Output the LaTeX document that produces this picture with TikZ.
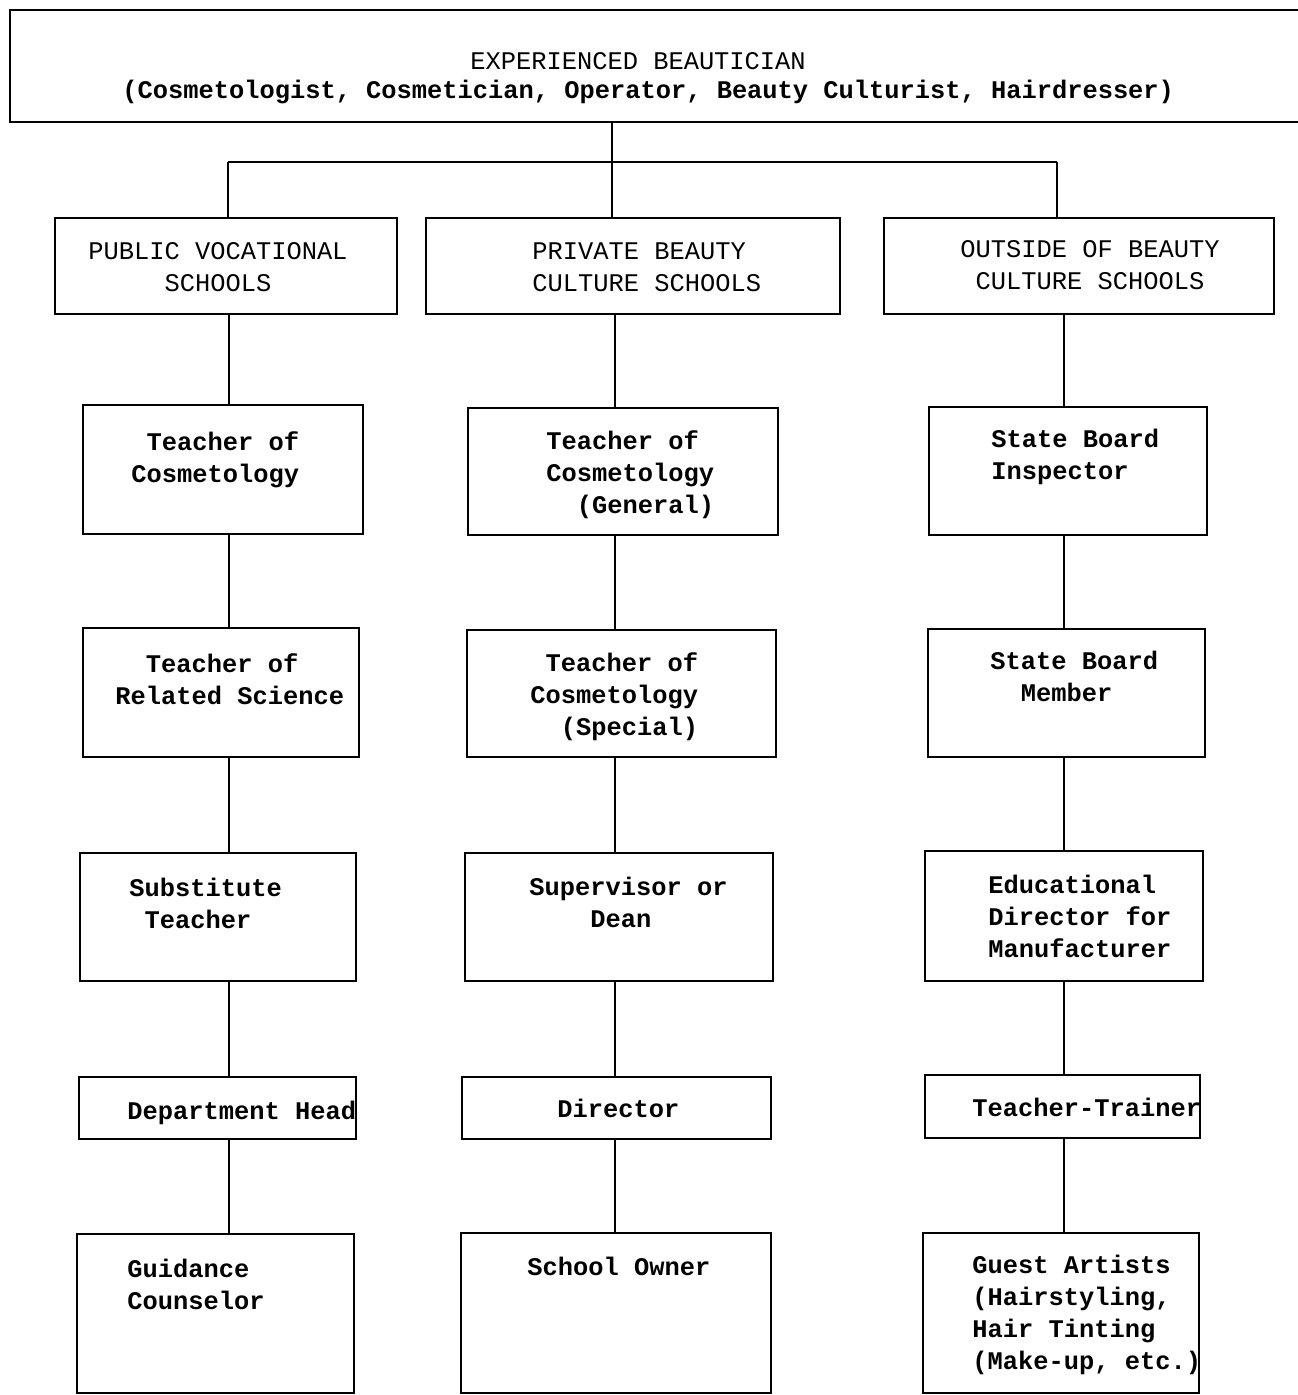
\documentclass[tikz,border=0pt]{standalone}
\usepackage{fontspec}
\newfontfamily\tw{Liberation Mono}
\usetikzlibrary{fit}
\newcommand\ind[1]{\hspace*{#1\fontcharwd\font`x}}
\newcommand\fst{\rule{0pt}{10pt}}
\tikzset{
  box/.style={draw, line width=1.1pt, inner sep=0pt, rectangle},
  txt/.style={anchor=north west, inner sep=0pt, align=left, font=\tw\fontsize{12.7}{16}\selectfont\bfseries},
  caps/.style={anchor=north west, inner sep=0pt, align=left, font=\tw\fontsize{12.7}{16}\selectfont},
  conn/.style={line width=1.1pt}
}
\begin{document}
\begin{tikzpicture}[x=0.5pt,y=-0.5pt]
\fill[white,use as bounding box] (0,0) rectangle (1297,1395);
% boxes
\node[box, fit={(10,10) (1320,122)}] (t) {};
\node[box, fit={(55,218) (397,314)}] (h1) {};
\node[box, fit={(426,218) (840,314)}] (h2) {};
\node[box, fit={(884,218) (1274,314)}] (h3) {};
\node[box, fit={(83,405) (363,534)}] (a1) {};
\node[box, fit={(83,628) (359,757)}] (a2) {};
\node[box, fit={(80,853) (356,981)}] (a3) {};
\node[box, fit={(79,1077) (356,1139)}] (a4) {};
\node[box, fit={(77,1234) (354,1393)}] (a5) {};
\node[box, fit={(468,408) (778,535)}] (b1) {};
\node[box, fit={(467,630) (776,757)}] (b2) {};
\node[box, fit={(465,853) (773,981)}] (b3) {};
\node[box, fit={(462,1077) (771,1139)}] (b4) {};
\node[box, fit={(461,1233) (771,1393)}] (b5) {};
\node[box, fit={(929,407) (1207,535)}] (c1) {};
\node[box, fit={(928,629) (1205,757)}] (c2) {};
\node[box, fit={(925,851) (1203,981)}] (c3) {};
\node[box, fit={(925,1075) (1200,1138)}] (c4) {};
\node[box, fit={(923,1233) (1199,1393)}] (c5) {};
% texts
\node[caps] (tt1) at (470,49) {\fst EXPERIENCED BEAUTICIAN};
\node[txt] (tt2) at (122,78) {\fst (Cosmetologist, Cosmetician, Operator, Beauty Culturist, Hairdresser)};
\node[caps] (th1) at (88,239) {\fst PUBLIC VOCATIONAL\\\ind{5}SCHOOLS};
\node[caps] (th2) at (532,239) {\fst PRIVATE BEAUTY\\CULTURE SCHOOLS};
\node[caps] (th3) at (960,237) {\fst OUTSIDE OF BEAUTY\\\ind{1}CULTURE SCHOOLS};
\node[txt] (ta1) at (131,430) {\fst\ind{1}Teacher of\\Cosmetology};
\node[txt] (ta2) at (115,652) {\fst\ind{2}Teacher of\\Related Science};
\node[txt] (ta3) at (129,876) {\fst Substitute\\\ind{1}Teacher};
\node[txt] (ta4) at (127,1099) {\fst Department Head};
\node[txt] (ta5) at (127,1257) {\fst Guidance\\Counselor};
\node[txt] (tb1) at (546,429) {\fst Teacher of\\Cosmetology\\\ind{2}(General)};
\node[txt] (tb2) at (530,651) {\fst\ind{1}Teacher of\\Cosmetology\\\ind{2}(Special)};
\node[txt] (tb3) at (529,875) {\fst Supervisor or\\\ind{4}Dean};
\node[txt] (tb4) at (557,1097) {\fst Director};
\node[txt] (tb5) at (527,1255) {\fst School Owner};
\node[txt] (tc1) at (991,427) {\fst State Board\\Inspector};
\node[txt] (tc2) at (990,649) {\fst State Board\\\ind{2}Member};
\node[txt] (tc3) at (988,873) {\fst Educational\\Director for\\Manufacturer};
\node[txt] (tc4) at (972,1096) {\fst Teacher-Trainer};
\node[txt] (tc5) at (972,1253) {\fst Guest Artists\\(Hairstyling,\\Hair Tinting\\(Make-up, etc.)};
% connector coordinates
\coordinate (j) at (612,162);
\coordinate (jl) at (228,162);
\coordinate (jr) at (1057,162);
\coordinate (x1) at (229,0);
\coordinate (x2) at (615,0);
\coordinate (x3) at (1064,0);
% connectors
\draw[conn] (t.south -| j) -- (h2.north -| j);
\draw[conn] (jl) -- (jr);
\draw[conn] (jl) -- (h1.north -| jl);
\draw[conn] (jr) -- (h3.north -| jr);
\draw[conn] (h1.south -| x1) -- (a1.north -| x1);
\draw[conn] (a1.south -| x1) -- (a2.north -| x1);
\draw[conn] (a2.south -| x1) -- (a3.north -| x1);
\draw[conn] (a3.south -| x1) -- (a4.north -| x1);
\draw[conn] (a4.south -| x1) -- (a5.north -| x1);
\draw[conn] (h2.south -| x2) -- (b1.north -| x2);
\draw[conn] (b1.south -| x2) -- (b2.north -| x2);
\draw[conn] (b2.south -| x2) -- (b3.north -| x2);
\draw[conn] (b3.south -| x2) -- (b4.north -| x2);
\draw[conn] (b4.south -| x2) -- (b5.north -| x2);
\draw[conn] (h3.south -| x3) -- (c1.north -| x3);
\draw[conn] (c1.south -| x3) -- (c2.north -| x3);
\draw[conn] (c2.south -| x3) -- (c3.north -| x3);
\draw[conn] (c3.south -| x3) -- (c4.north -| x3);
\draw[conn] (c4.south -| x3) -- (c5.north -| x3);
\end{tikzpicture}
\end{document}
